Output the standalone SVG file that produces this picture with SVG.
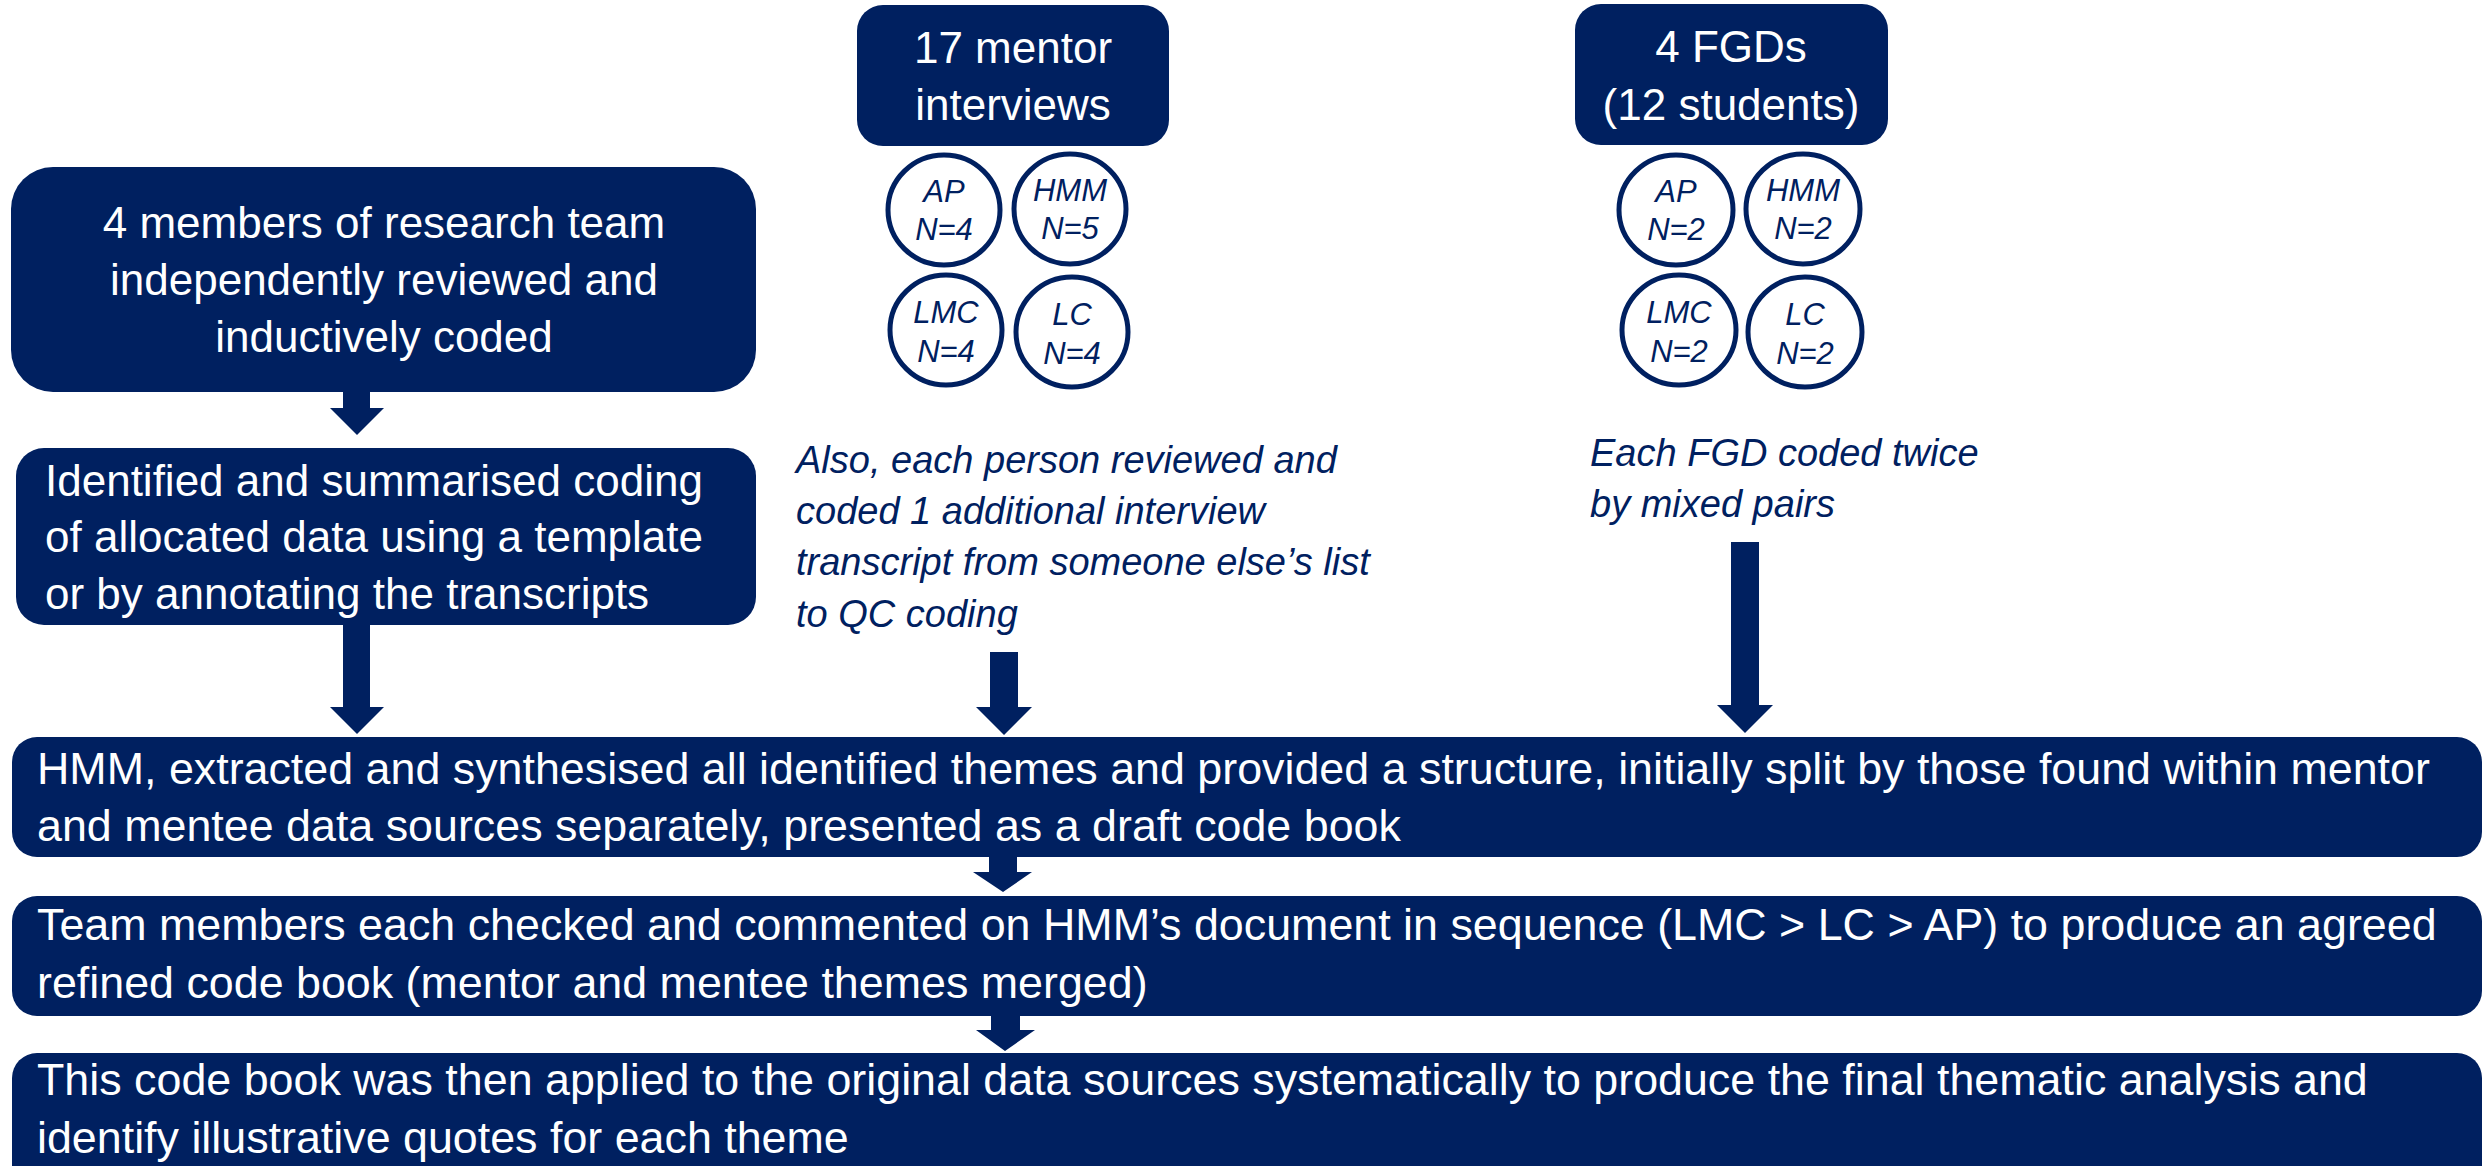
<svg xmlns="http://www.w3.org/2000/svg" width="2483" height="1166" viewBox="0 0 2483 1166">
  <style>
    .box { fill: #002060; }
    .ring { fill: #ffffff; stroke: #002060; stroke-width: 5; }
    .arrow { fill: #002060; }
    .t { font-family: "Liberation Sans", Arial, sans-serif; font-size: 44px; fill: #ffffff; }
    .wide { font-size: 44.8px; }
    .c { text-anchor: middle; }
    .note { font-family: "Liberation Sans", Arial, sans-serif; font-style: italic; font-size: 38px; fill: #002060; }
    .lbl { font-family: "Liberation Sans", Arial, sans-serif; font-style: italic; font-size: 31px; fill: #002060; text-anchor: middle; }
  </style>
  <rect width="2483" height="1166" fill="#ffffff"/>

  <!-- connectors -->
  <g id="connectors">
    <polygon class="arrow" points="343,390 370,390 370,408 384,408 357,435 330,408 343,408"/>
    <polygon class="arrow" points="343,623 370,623 370,707 384,707 357,734 330,707 343,707"/>
    <polygon class="arrow" points="990,652 1018,652 1018,707 1032,707 1004,735 976,707 990,707"/>
    <polygon class="arrow" points="1731,542 1759,542 1759,705 1773,705 1745,733 1717,705 1731,705"/>
    <polygon class="arrow" points="989,856 1017,856 1017,872 1032,872 1003,892 973,872 989,872"/>
    <polygon class="arrow" points="991,1015 1020,1015 1020,1030 1035,1030 1005,1051 976,1030 991,1030"/>
  </g>

  <!-- coding team -->
  <g id="team">
    <rect class="box" x="11" y="167" width="745" height="225" rx="42"/>
    <text class="t c" x="384" y="238">4 members of research team</text>
    <text class="t c" x="384" y="295">independently reviewed and</text>
    <text class="t c" x="384" y="352">inductively coded</text>
  </g>

  <g id="summarise">
    <rect class="box" x="16" y="448" width="740" height="177" rx="28"/>
    <text class="t" x="45" y="496">Identified and summarised coding</text>
    <text class="t" x="45" y="552">of allocated data using a template</text>
    <text class="t" x="45" y="609">or by annotating the transcripts</text>
  </g>

  <!-- mentor interviews -->
  <g id="mentors">
    <rect class="box" x="857" y="5" width="312" height="141" rx="26"/>
    <text class="t c" x="1013" y="63">17 mentor</text>
    <text class="t c" x="1013" y="120">interviews</text>
  </g>
  <g id="mentor-ap">
    <ellipse class="ring" cx="944" cy="210" rx="56" ry="55"/>
    <text class="lbl" x="944" y="202">AP</text>
    <text class="lbl" x="944" y="240">N=4</text>
  </g>
  <g id="mentor-hmm">
    <ellipse class="ring" cx="1070" cy="209" rx="56" ry="55"/>
    <text class="lbl" x="1070" y="201">HMM</text>
    <text class="lbl" x="1070" y="239">N=5</text>
  </g>
  <g id="mentor-lmc">
    <ellipse class="ring" cx="946" cy="330" rx="56" ry="55"/>
    <text class="lbl" x="946" y="323">LMC</text>
    <text class="lbl" x="946" y="362">N=4</text>
  </g>
  <g id="mentor-lc">
    <ellipse class="ring" cx="1072" cy="332" rx="56" ry="55"/>
    <text class="lbl" x="1072" y="325">LC</text>
    <text class="lbl" x="1072" y="364">N=4</text>
  </g>
  <g id="mentor-note">
    <text class="note" x="796" y="473">Also, each person reviewed and</text>
    <text class="note" x="796" y="524">coded 1 additional interview</text>
    <text class="note" x="796" y="575">transcript from someone else’s list</text>
    <text class="note" x="796" y="627">to QC coding</text>
  </g>

  <!-- focus group discussions -->
  <g id="fgds">
    <rect class="box" x="1575" y="4" width="313" height="141" rx="26"/>
    <text class="t c" x="1731" y="62">4 FGDs</text>
    <text class="t c" x="1731" y="120">(12 students)</text>
  </g>
  <g id="fgd-ap">
    <ellipse class="ring" cx="1676" cy="210" rx="57" ry="55"/>
    <text class="lbl" x="1676" y="202">AP</text>
    <text class="lbl" x="1676" y="240">N=2</text>
  </g>
  <g id="fgd-hmm">
    <ellipse class="ring" cx="1803" cy="209" rx="57" ry="55"/>
    <text class="lbl" x="1803" y="201">HMM</text>
    <text class="lbl" x="1803" y="239">N=2</text>
  </g>
  <g id="fgd-lmc">
    <ellipse class="ring" cx="1679" cy="330" rx="57" ry="55"/>
    <text class="lbl" x="1679" y="323">LMC</text>
    <text class="lbl" x="1679" y="362">N=2</text>
  </g>
  <g id="fgd-lc">
    <ellipse class="ring" cx="1805" cy="332" rx="57" ry="55"/>
    <text class="lbl" x="1805" y="325">LC</text>
    <text class="lbl" x="1805" y="364">N=2</text>
  </g>
  <g id="fgd-note">
    <text class="note" x="1590" y="466">Each FGD coded twice</text>
    <text class="note" x="1590" y="517">by mixed pairs</text>
  </g>

  <!-- synthesis steps -->
  <g id="draft-codebook">
    <rect class="box" x="12" y="737" width="2470" height="120" rx="25"/>
    <text class="t wide" x="37" y="784">HMM, extracted and synthesised all identified themes and provided a structure, initially split by those found within mentor</text>
    <text class="t wide" x="37" y="841">and mentee data sources separately, presented as a draft code book</text>
  </g>
  <g id="refined-codebook">
    <rect class="box" x="12" y="896" width="2470" height="120" rx="25"/>
    <text class="t wide" x="37" y="940">Team members each checked and commented on HMM’s document in sequence (LMC &gt; LC &gt; AP) to produce an agreed</text>
    <text class="t wide" x="37" y="998">refined code book (mentor and mentee themes merged)</text>
  </g>
  <g id="final-analysis">
    <rect class="box" x="12" y="1053" width="2470" height="150" rx="25"/>
    <text class="t wide" x="37" y="1095">This code book was then applied to the original data sources systematically to produce the final thematic analysis and</text>
    <text class="t wide" x="37" y="1153">identify illustrative quotes for each theme</text>
  </g>
</svg>
